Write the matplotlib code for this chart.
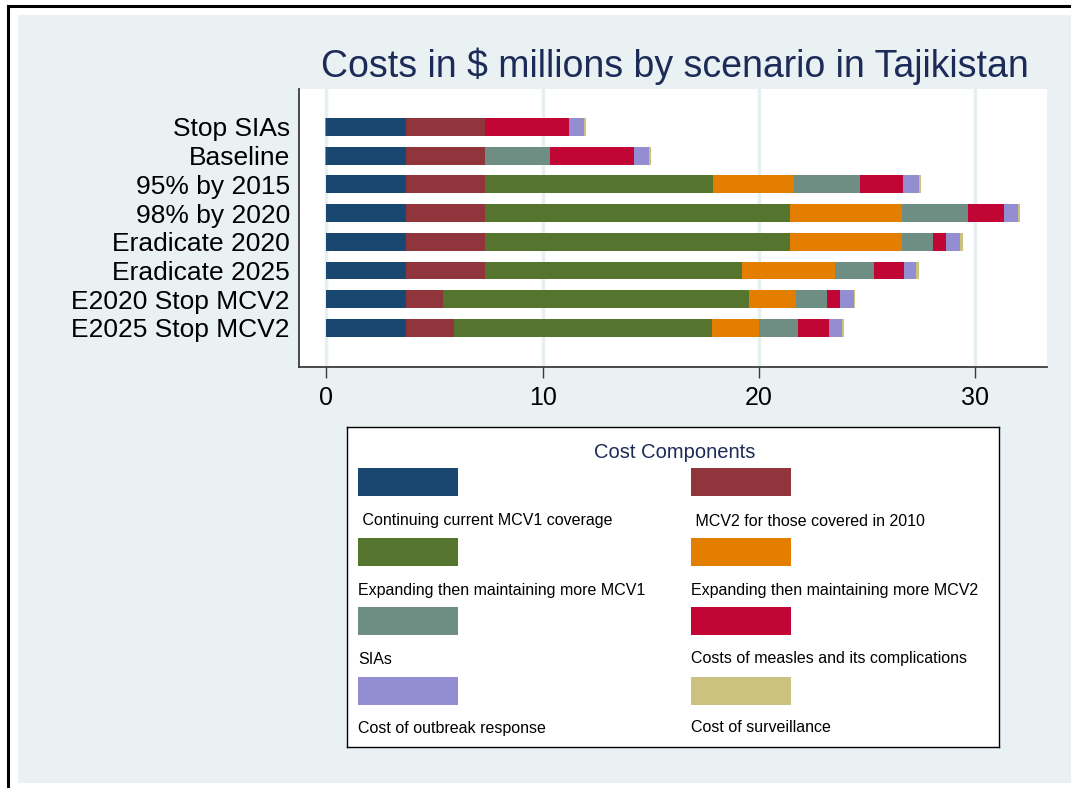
import numpy as np
import matplotlib.pyplot as plt
from matplotlib.patches import Rectangle
from matplotlib.lines import Line2D

plt.rcParams['font.family'] = ['Liberation Sans', 'DejaVu Sans']

# Scenarios, top to bottom
scenarios = ["Stop SIAs", "Baseline", "95% by 2015", "98% by 2020",
             "Eradicate 2020", "Eradicate 2025", "E2020 Stop MCV2", "E2025 Stop MCV2"]

# Cost components ($ millions) for each scenario
mcv1_current = [3.68, 3.68, 3.68, 3.68, 3.68, 3.68, 3.68, 3.68]
mcv2_2010 = [3.67, 3.67, 3.67, 3.67, 3.67, 3.67, 1.74, 2.24]
mcv1_expand = [0.0, 0.0, 10.54, 14.10, 14.10, 11.87, 14.12, 11.91]
mcv2_expand = [-0.06, -0.06, 3.72, 5.18, 5.18, 4.31, 2.17, 2.19]
sias = [0.0, 3.01, 3.05, 3.02, 1.43, 1.77, 1.44, 1.79]
measles = [3.88, 3.85, 2.02, 1.68, 0.60, 1.39, 0.61, 1.41]
outbreak = [0.69, 0.72, 0.74, 0.66, 0.65, 0.59, 0.62, 0.60]
surveillance = [0.08, 0.08, 0.07, 0.09, 0.12, 0.12, 0.07, 0.11]

component_labels = [" Continuing current MCV1 coverage", " MCV2 for those covered in 2010",
                    "Expanding then maintaining more MCV1", "Expanding then maintaining more MCV2",
                    "SIAs", "Costs of measles and its complications",
                    "Cost of outbreak response", "Cost of surveillance"]

colors = ["#1a476f", "#90353b", "#55752f", "#e37e00",
          "#6e8e84", "#c10534", "#938dd2", "#cac27e"]

series = [mcv1_current, mcv2_2010, mcv1_expand, mcv2_expand,
          sias, measles, outbreak, surveillance]

W, H = 1071, 788
bg = "#eaf1f3"
navy_text = "#1c2b58"

fig = plt.figure(figsize=(W / 100, H / 100), dpi=100)
fig.patch.set_facecolor("white")

# graph region background and outer frame
fig.add_artist(Rectangle((18 / W, 1 - 783 / H), 1 - 18 / W, (783 - 15) / H,
                         transform=fig.transFigure, facecolor=bg, edgecolor="none", zorder=0))
fig.add_artist(Line2D([8 / W, 8 / W], [0, 1 - 6 / H], transform=fig.transFigure,
                      color="black", lw=2.2))
fig.add_artist(Line2D([8 / W, 1], [1 - 6 / H, 1 - 6 / H], transform=fig.transFigure,
                      color="black", lw=2.2))

ax = fig.add_axes([299 / W, 1 - 367 / H, (1047 - 299) / W, (367 - 89) / H])
ax.set_facecolor("white")

ypos = np.arange(len(scenarios))
pos_left = np.zeros(len(scenarios))
neg_left = np.zeros(len(scenarios))
for vals, col in zip(series, colors):
    vals = np.array(vals)
    left = np.where(vals >= 0, pos_left, neg_left)
    ax.barh(ypos, vals, left=left, height=0.62, color=col, edgecolor="none", zorder=3)
    pos_left += np.clip(vals, 0, None)
    neg_left += np.clip(vals, None, 0)

ax.set_xlim(-1.26, 33.32)
ax.set_ylim(8.36, -1.32)
ax.set_xticks([0, 10, 20, 30])
ax.set_yticks(ypos)
ax.set_yticklabels(scenarios)
ax.xaxis.grid(True, color="#e6eff1", lw=2.5, zorder=0)
ax.set_axisbelow(True)

for s in ["top", "right"]:
    ax.spines[s].set_visible(False)
for s in ["left", "bottom"]:
    ax.spines[s].set_color("#3c3c3c")
    ax.spines[s].set_linewidth(1.3)

ax.tick_params(axis="x", length=8, width=1, color="#3c3c3c", labelsize=18, pad=6)
ax.tick_params(axis="y", length=0, labelsize=19, pad=6.5)

fig.text(674.5 / W, 1 - 66 / H, "Costs in $ millions by scenario in Tajikistan",
         ha="center", va="center", fontsize=27, color=navy_text)

# legend box: two columns, label under each swatch
lax = fig.add_axes([347 / W, 1 - 747 / H, (999 - 347) / W, (747 - 427) / H])
lax.set_xlim(347, 999)
lax.set_ylim(747, 427)
lax.set_xticks([])
lax.set_yticks([])
lax.set_facecolor("white")
for s in lax.spines.values():
    s.set_color("black")
    s.set_linewidth(1.0)

lax.text(675, 452, "Cost Components", ha="center", va="center",
         fontsize=14.5, color=navy_text)

col_x = [358, 691]
sw_top = [468, 538, 607, 677]
lab_y = [521, 590, 659, 728]
for i, (lab, col) in enumerate(zip(component_labels, colors)):
    r, c = divmod(i, 2)
    lax.add_patch(Rectangle((col_x[c], sw_top[r]), 100, 28, facecolor=col, edgecolor="none"))
    lax.text(col_x[c], lab_y[r], lab, ha="left", va="center", fontsize=11.5, color="black")

fig.savefig("out.png", dpi=100)
